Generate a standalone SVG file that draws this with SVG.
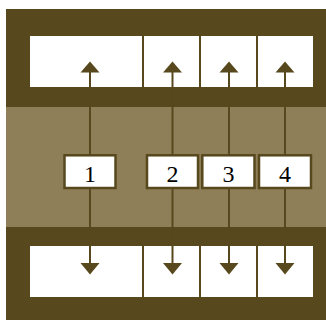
<svg xmlns="http://www.w3.org/2000/svg" width="326" height="321" viewBox="0 0 326 321">
<defs>
<style>
.dark{fill:#57481d}
.light{fill:#8f7f59}
.win{fill:#ffffff}
.div{stroke:#57481d;stroke-width:2}
.wire{stroke:#57481d;stroke-width:2;fill:none}
.head{fill:#57481d}
.box{fill:#ffffff;stroke:#57481d;stroke-width:2.5}
.lbl{font-family:"Liberation Serif","Times New Roman",serif;font-size:24px;fill:#000000;text-anchor:middle}
</style>
</defs>
<rect class="dark" x="6" y="9" width="320" height="311"/>
<rect class="light" x="6" y="107" width="320" height="120"/>
<g id="top-bus">
<rect class="win" x="30" y="36" width="283" height="51"/>
<line class="div" x1="143" y1="36" x2="143" y2="87"/>
<line class="div" x1="200" y1="36" x2="200" y2="87"/>
<line class="div" x1="257" y1="36" x2="257" y2="87"/>
</g>
<g id="bottom-bus">
<rect class="win" x="30" y="246" width="283" height="51"/>
<line class="div" x1="143" y1="246" x2="143" y2="297"/>
<line class="div" x1="200" y1="246" x2="200" y2="297"/>
<line class="div" x1="257" y1="246" x2="257" y2="297"/>
</g>
<g id="connectors">
<line class="wire" x1="90" y1="71" x2="90" y2="264"/>
<line class="wire" x1="172.5" y1="71" x2="172.5" y2="264"/>
<line class="wire" x1="229" y1="71" x2="229" y2="264"/>
<line class="wire" x1="285" y1="71" x2="285" y2="264"/>
<polygon class="head" points="80.5,72.5 99.5,72.5 90,61.5"/>
<polygon class="head" points="163,72.5 182,72.5 172.5,61.5"/>
<polygon class="head" points="219.5,72.5 238.5,72.5 229,61.5"/>
<polygon class="head" points="275.5,72.5 294.5,72.5 285,61.5"/>
<polygon class="head" points="80.5,263 99.5,263 90,274.5"/>
<polygon class="head" points="163,263 182,263 172.5,274.5"/>
<polygon class="head" points="219.5,263 238.5,263 229,274.5"/>
<polygon class="head" points="275.5,263 294.5,263 285,274.5"/>
</g>
<g id="node1">
<rect class="box" x="64.5" y="155.3" width="51" height="32.7"/>
<text class="lbl" x="90" y="181.5">1</text>
</g>
<g id="node2">
<rect class="box" x="147" y="155.3" width="51" height="32.7"/>
<text class="lbl" x="172.5" y="181.5">2</text>
</g>
<g id="node3">
<rect class="box" x="202.3" y="155.3" width="52.2" height="32.7"/>
<text class="lbl" x="228.5" y="181.5">3</text>
</g>
<g id="node4">
<rect class="box" x="259" y="155.3" width="52" height="32.7"/>
<text class="lbl" x="285" y="181.5">4</text>
</g>
</svg>
